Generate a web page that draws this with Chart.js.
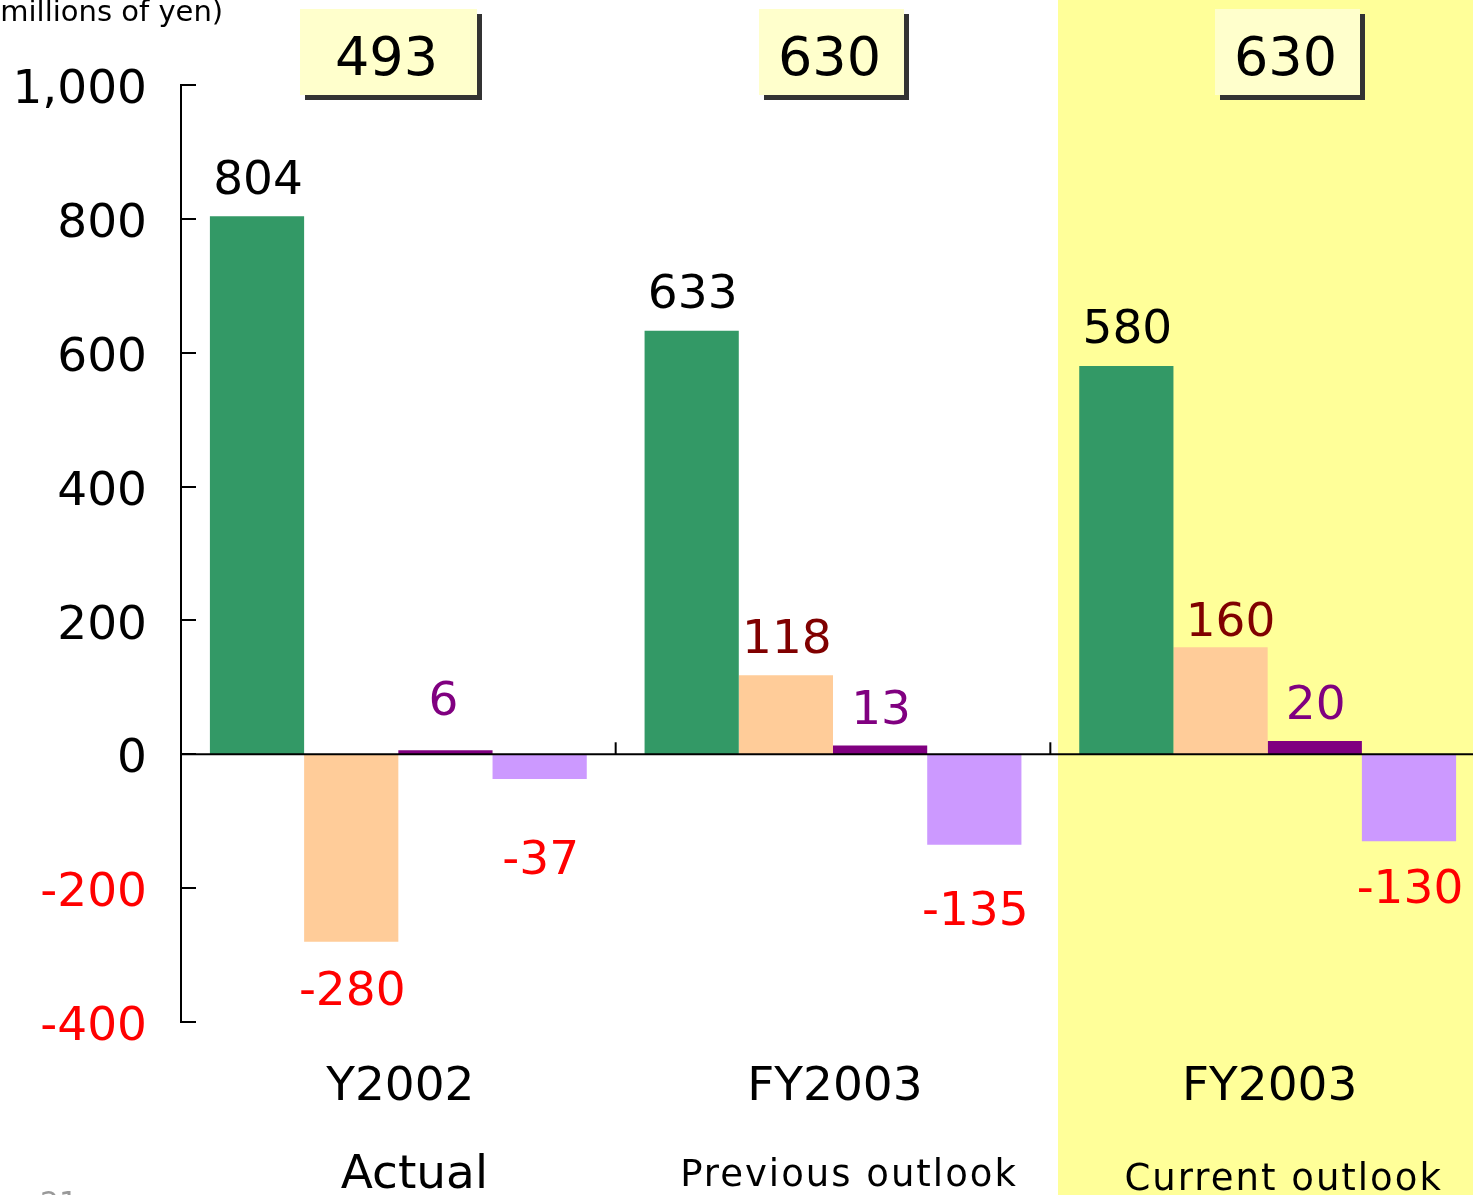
<!DOCTYPE html>
<html>
<head>
<meta charset="utf-8">
<script src="https://cdn.jsdelivr.net/npm/chart.js@4/dist/chart.umd.min.js"></script>
<style>
  html, body { margin: 0; padding: 0; background: #ffffff; overflow: hidden; }
  #wrap { position: relative; width: 1490px; height: 1195px; }
</style>
</head>
<body>
<div id="wrap"><canvas id="c"></canvas></div>
<script>
// Categories and their sub-captions
const categories = ['Y2002', 'FY2003', 'FY2003'];
const subLabels = ['Actual', 'Previous outlook', 'Current outlook'];

// Component values (millions of yen)
const seriesGreen = [804, 633, 580];
const seriesPeach = [-280, 118, 160];
const seriesPurple = [6, 13, 20];
const seriesLavender = [-37, -135, -130];

// Totals shown in the boxes above each group
const totals = [493, 630, 630];

// Value axis range and step
const yMin = -400;
const yMax = 1000;
const yStep = 200;

// ---- styling / layout ----
const FONT = '"DejaVu Sans", Verdana, sans-serif';
const barColors = ['#339966', '#FFCC99', '#800080', '#CC99FF'];
const labelColors = [
  ['#000000', '#000000', '#000000'],
  ['#FF0000', '#800000', '#800000'],
  ['#800080', '#800080', '#800080'],
  ['#FF0000', '#FF0000', '#FF0000']
];
// distance between bar end and its value label
const labelGap = [
  [22, 23, 23],
  [28, 22, 11],
  [35, 22, 22],
  [60, 45, 27]
];
// sideways shift of individual value labels
const labelShift = [
  [1, 1, 1],
  [1, 1, 10],
  [-2, 1, 1],
  [1, 1, 1]
];
const totalBoxes = [
  { x: 300, w: 177 },
  { x: 759, w: 145 },
  { x: 1215, w: 145 }
];
const panelLeft = 1058;

const decorPlugin = {
  id: 'decor',
  beforeDraw(chart) {
    const ctx = chart.ctx;
    ctx.save();
    ctx.fillStyle = '#ffffff';
    ctx.fillRect(0, 0, chart.width, chart.height);
    ctx.fillStyle = '#FFFF99';
    ctx.fillRect(panelLeft, 0, chart.width - panelLeft, chart.height);
    ctx.restore();
  },
  afterDatasetsDraw(chart) {
    const ctx = chart.ctx;
    const xs = chart.scales.x;
    const ys = chart.scales.y;
    const area = chart.chartArea;
    const zeroY = ys.getPixelForValue(0);
    ctx.save();

    // zero line
    ctx.strokeStyle = '#000000';
    ctx.lineWidth = 2;
    ctx.beginPath();
    ctx.moveTo(area.left, zeroY);
    ctx.lineTo(area.right, zeroY);
    ctx.stroke();

    // inward tick marks on the value axis
    ys.ticks.forEach(t => {
      const py = Math.round(ys.getPixelForValue(t.value));
      ctx.beginPath();
      ctx.moveTo(area.left, py);
      ctx.lineTo(area.left + 15, py);
      ctx.stroke();
    });

    // category boundary ticks on the zero line
    for (let i = 0; i < categories.length - 1; i++) {
      const bx = (xs.getPixelForValue(i) + xs.getPixelForValue(i + 1)) / 2;
      ctx.beginPath();
      ctx.moveTo(bx, zeroY);
      ctx.lineTo(bx, zeroY - 12);
      ctx.stroke();
    }

    // value labels
    ctx.font = '47px ' + FONT;
    ctx.textAlign = 'center';
    ctx.textBaseline = 'alphabetic';
    chart.data.datasets.forEach((ds, di) => {
      const meta = chart.getDatasetMeta(di);
      meta.data.forEach((el, i) => {
        const v = ds.data[i];
        ctx.fillStyle = labelColors[di][i];
        const gap = labelGap[di][i];
        const ty = v >= 0 ? el.y - gap : el.y + gap + 35;
        ctx.fillText(String(v), el.x + labelShift[di][i], ty);
      });
    });

    // category captions
    categories.forEach((c, i) => {
      const cx = xs.getPixelForValue(i);
      ctx.fillStyle = '#000000';
      ctx.font = '47px ' + FONT;
      ctx.letterSpacing = '0px';
      ctx.fillText(c, cx + 2, 1100);
      if (i === 0) {
        ctx.font = '47px ' + FONT;
        ctx.fillText(subLabels[i], cx + 16, 1188);
      } else {
        ctx.font = '37px ' + FONT;
        ctx.letterSpacing = '2px';
        ctx.fillText(subLabels[i], cx + 16, 1186 + (i === 2 ? 4 : 0));
        ctx.letterSpacing = '0px';
      }
    });

    // total boxes with drop shadow
    totals.forEach((t, i) => {
      const b = totalBoxes[i];
      ctx.fillStyle = '#333333';
      ctx.fillRect(b.x + 5, 14, b.w, 86);
      ctx.fillStyle = '#FFFFCC';
      ctx.fillRect(b.x, 9, b.w, 86);
      ctx.fillStyle = '#000000';
      ctx.font = '54px ' + FONT;
      ctx.fillText(String(t), b.x + b.w / 2 - 2, 75);
    });

    // unit caption
    ctx.textAlign = 'left';
    ctx.font = '29px ' + FONT;
    ctx.fillStyle = '#000000';
    ctx.fillText('(millions of yen)', -11, 21);

    // page number
    ctx.fillStyle = '#999999';
    ctx.font = '30px ' + FONT;
    ctx.fillText('21', 40, 1213);

    ctx.restore();
  }
};

new Chart(document.getElementById('c'), {
  type: 'bar',
  data: {
    labels: categories,
    datasets: [
      { label: 'A', data: seriesGreen, backgroundColor: barColors[0] },
      { label: 'B', data: seriesPeach, backgroundColor: barColors[1] },
      { label: 'C', data: seriesPurple, backgroundColor: barColors[2] },
      { label: 'D', data: seriesLavender, backgroundColor: barColors[3] }
    ]
  },
  options: {
    responsive: true,
    maintainAspectRatio: false,
    animation: false,
    devicePixelRatio: 1,
    layout: { padding: { top: 85, bottom: 173, left: 0, right: 5 } },
    datasets: { bar: { categoryPercentage: 0.867, barPercentage: 1.0, borderWidth: 0 } },
    plugins: { legend: { display: false }, tooltip: { enabled: false } },
    scales: {
      x: { display: false },
      y: {
        min: yMin,
        max: yMax,
        afterFit(scale) { scale.width = 181; },
        ticks: {
          stepSize: yStep,
          padding: 34,
          labelOffset: 6,
          font: { family: FONT, size: 47 },
          color: ctx => (ctx.tick.value < 0 ? '#FF0000' : '#000000'),
          callback: v => Number(v).toLocaleString('en-US')
        },
        grid: { display: false, drawTicks: false },
        border: { display: true, color: '#000000', width: 2 }
      }
    }
  },
  plugins: [decorPlugin]
});
</script>
</body>
</html>
